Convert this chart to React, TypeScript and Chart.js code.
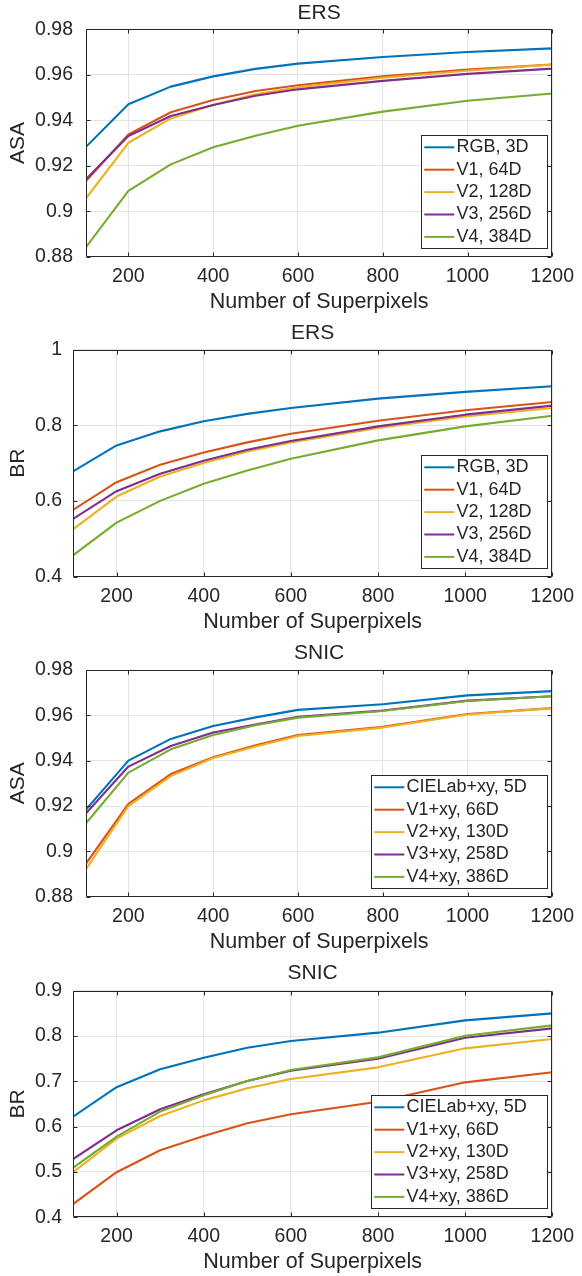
import React, { useEffect, useRef } from 'react';
import { Chart, registerables } from 'chart.js';

Chart.register(...registerables);

const FONT = "'Liberation Sans', Arial, Helvetica, sans-serif";
const TEXT = '#262626';
const GRID = '#e4e4e4';
const COLORS = ['#0072BD', '#D95319', '#EDB120', '#7E2F8E', '#77AC30'];

// ---- data ----
const superpixels = [100, 200, 300, 400, 500, 600, 800, 1000, 1200];
const xTickValues = [200, 400, 600, 800, 1000, 1200];
const asaTicks = [0.88, 0.9, 0.92, 0.94, 0.96, 0.98];
const ersBrTicks = [0.4, 0.6, 0.8, 1];
const snicBrTicks = [0.4, 0.5, 0.6, 0.7, 0.8, 0.9];

const ersLabels = ['RGB, 3D', 'V1, 64D', 'V2, 128D', 'V3, 256D', 'V4, 384D'];
const snicLabels = ['CIELab+xy, 5D', 'V1+xy, 66D', 'V2+xy, 130D', 'V3+xy, 258D', 'V4+xy, 386D'];

const ersAsaRGB = [0.9283, 0.947, 0.9548, 0.9593, 0.9626, 0.9649, 0.9678, 0.97, 0.9716];
const ersAsaV1 = [0.9133, 0.9338, 0.9435, 0.9489, 0.9529, 0.9554, 0.9593, 0.9623, 0.9645];
const ersAsaV2 = [0.9057, 0.9301, 0.9408, 0.9467, 0.9514, 0.9545, 0.9587, 0.9618, 0.9645];
const ersAsaV3 = [0.9141, 0.9331, 0.9419, 0.9467, 0.9508, 0.9536, 0.9573, 0.9604, 0.9627];
const ersAsaV4 = [0.8842, 0.9089, 0.9206, 0.9281, 0.9332, 0.9376, 0.9438, 0.9486, 0.9518];

const ersBrRGB = [0.678, 0.7467, 0.7838, 0.8103, 0.83, 0.8455, 0.8703, 0.888, 0.903];
const ersBrV1 = [0.5763, 0.6496, 0.6955, 0.7282, 0.7547, 0.7776, 0.812, 0.8394, 0.8614];
const ersBrV2 = [0.5252, 0.6117, 0.6646, 0.7, 0.7308, 0.7547, 0.7926, 0.8235, 0.8455];
const ersBrV3 = [0.5525, 0.6258, 0.6717, 0.7061, 0.7352, 0.7582, 0.797, 0.8279, 0.8517];
const ersBrV4 = [0.4563, 0.5428, 0.6002, 0.6452, 0.6805, 0.7114, 0.76, 0.797, 0.8252];

const snicAsaRGB = [0.9184, 0.94, 0.9496, 0.9553, 0.9591, 0.9624, 0.9649, 0.9688, 0.9707];
const snicAsaV1 = [0.8946, 0.9209, 0.9341, 0.9415, 0.9468, 0.9513, 0.955, 0.9606, 0.9632];
const snicAsaV2 = [0.8922, 0.92, 0.9332, 0.9412, 0.9463, 0.9509, 0.9546, 0.9604, 0.9631];
const snicAsaV3 = [0.9168, 0.9374, 0.9465, 0.9524, 0.956, 0.9594, 0.9621, 0.9665, 0.9684];
const snicAsaV4 = [0.9124, 0.9347, 0.945, 0.9513, 0.9556, 0.959, 0.9619, 0.9663, 0.9684];

const snicBrRGB = [0.622, 0.687, 0.7266, 0.7522, 0.7743, 0.789, 0.8074, 0.8346, 0.85];
const snicBrV1 = [0.429, 0.4995, 0.548, 0.5795, 0.6074, 0.6272, 0.6551, 0.6978, 0.72];
const snicBrV2 = [0.4995, 0.5735, 0.6236, 0.658, 0.6846, 0.7051, 0.7309, 0.7728, 0.7934];
const snicBrV3 = [0.5285, 0.592, 0.6383, 0.6717, 0.7007, 0.7235, 0.75, 0.7963, 0.8169];
const snicBrV4 = [0.509, 0.578, 0.6332, 0.6695, 0.7007, 0.725, 0.7529, 0.8007, 0.8235];

type PanelCfg = {
  title: string;
  yLabel: string;
  yMin: number;
  yMax: number;
  yTicks: number[];
  labels: string[];
  series: number[][];
  // layout
  top: number;
  height: number;
  areaTop: number;
  areaBottom: number;
  areaLeft: number;
  yTickPad: number;
  legendWidth: number;
};

const AREA_RIGHT = 558;

const panels: PanelCfg[] = [
  {
    title: 'ERS', yLabel: 'ASA', yMin: 0.88, yMax: 0.98, yTicks: asaTicks, labels: ersLabels,
    series: [ersAsaRGB, ersAsaV1, ersAsaV2, ersAsaV3, ersAsaV4],
    top: 0, height: 320, areaTop: 29.3, areaBottom: 256.7, areaLeft: 86, yTickPad: 13, legendWidth: 126,
  },
  {
    title: 'ERS', yLabel: 'BR', yMin: 0.4, yMax: 1, yTicks: ersBrTicks, labels: ersLabels,
    series: [ersBrRGB, ersBrV1, ersBrV2, ersBrV3, ersBrV4],
    top: 320, height: 320, areaTop: 29.5, areaBottom: 256.7, areaLeft: 73, yTickPad: 11, legendWidth: 126,
  },
  {
    title: 'SNIC', yLabel: 'ASA', yMin: 0.88, yMax: 0.98, yTicks: asaTicks, labels: snicLabels,
    series: [snicAsaRGB, snicAsaV1, snicAsaV2, snicAsaV3, snicAsaV4],
    top: 640, height: 320, areaTop: 30, areaBottom: 256.7, areaLeft: 86, yTickPad: 13, legendWidth: 176,
  },
  {
    title: 'SNIC', yLabel: 'BR', yMin: 0.4, yMax: 0.9, yTicks: snicBrTicks, labels: snicLabels,
    series: [snicBrRGB, snicBrV1, snicBrV2, snicBrV3, snicBrV4],
    top: 960, height: 316, areaTop: 30.7, areaBottom: 257.3, areaLeft: 73, yTickPad: 11, legendWidth: 176,
  },
];

const fmt = (v: number) => String(Number(v.toFixed(2)));

const decorPlugin = {
  id: 'decor',
  afterDatasetsDraw(chart: any, _args: any, opts: any) {
    const { ctx, chartArea: a, scales } = chart;
    const L = Math.round(a.left) + 0.5;
    const R = Math.round(a.right) - 0.5;
    const T = Math.round(a.top) + 0.5;
    const B = Math.round(a.bottom) - 0.5;
    ctx.save();
    ctx.strokeStyle = TEXT;
    ctx.lineWidth = 1;
    ctx.beginPath();
    ctx.rect(L, T, R - L, B - T);
    const tl = 4;
    (opts.xTicks as number[]).forEach((v) => {
      const px = Math.round(scales.x.getPixelForValue(v)) + 0.5;
      ctx.moveTo(px, B);
      ctx.lineTo(px, B - tl);
      ctx.moveTo(px, T);
      ctx.lineTo(px, T + tl);
    });
    (opts.yTicks as number[]).forEach((v) => {
      const py = Math.round(scales.y.getPixelForValue(v)) + 0.5;
      ctx.moveTo(L, py);
      ctx.lineTo(L + tl, py);
      ctx.moveTo(R, py);
      ctx.lineTo(R - tl, py);
    });
    ctx.stroke();
    ctx.restore();
  },
  afterDraw(chart: any, _args: any, opts: any) {
    const { ctx, chartArea: a } = chart;
    ctx.save();
    // title
    ctx.fillStyle = TEXT;
    ctx.font = `21px ${FONT}`;
    ctx.textAlign = 'center';
    ctx.textBaseline = 'middle';
    ctx.fillText(opts.title, (a.left + a.right) / 2, 13);

    // legend
    const ds = chart.data.datasets;
    ctx.font = `18px ${FONT}`;
    const w = opts.legendWidth;
    const h = 113;
    const right = Math.round(a.right - 5.3);
    const bottom = Math.round(a.bottom - 9);
    const left = right - w;
    const top = bottom - h;
    ctx.fillStyle = '#ffffff';
    ctx.fillRect(left, top, w, h);
    ctx.strokeStyle = TEXT;
    ctx.lineWidth = 1;
    ctx.strokeRect(left + 0.5, top + 0.5, w, h);
    ds.forEach((d: any, i: number) => {
      const cy = top + 12.3 + i * 22.4;
      ctx.strokeStyle = d.borderColor;
      ctx.lineWidth = 2;
      ctx.beginPath();
      ctx.moveTo(left + 3.3, cy);
      ctx.lineTo(left + 33.3, cy);
      ctx.stroke();
      ctx.fillStyle = TEXT;
      ctx.textAlign = 'left';
      ctx.textBaseline = 'middle';
      ctx.fillText(d.label, left + 35.5, cy);
    });
    ctx.restore();
  },
};

function PanelChart({ cfg }: { cfg: PanelCfg }) {
  const ref = useRef<HTMLCanvasElement | null>(null);
  useEffect(() => {
    if (!ref.current) return;
    const H = cfg.height;
    const xLabelCenter = 302;
    const chart = new Chart(ref.current, {
      type: 'line',
      data: {
        datasets: cfg.series.map((s, i) => ({
          label: cfg.labels[i],
          data: superpixels.map((x, j) => ({ x, y: s[j] })),
          borderColor: COLORS[i],
          backgroundColor: COLORS[i],
          borderWidth: 2.1,
          pointRadius: 0,
          tension: 0,
          fill: false,
          borderJoinStyle: 'round',
          order: cfg.series.length - i,
        })),
      },
      options: {
        animation: false,
        responsive: false,
        maintainAspectRatio: false,
        layout: { padding: { left: 0, right: 582 - AREA_RIGHT, top: cfg.areaTop, bottom: 0 } },
        plugins: {
          legend: { display: false },
          title: { display: false },
          tooltip: { enabled: false },
          decor: { title: cfg.title, xTicks: xTickValues, yTicks: cfg.yTicks, legendWidth: cfg.legendWidth },
        } as any,
        scales: {
          x: {
            type: 'linear',
            min: 100,
            max: 1200,
            afterBuildTicks: (s: any) => {
              s.ticks = xTickValues.map((v) => ({ value: v }));
            },
            afterFit: (s: any) => {
              s.height = H - cfg.areaBottom;
            },
            grid: { color: GRID, drawTicks: false, lineWidth: 1 },
            border: { display: false },
            ticks: {
              font: { family: FONT, size: 19.5 },
              color: TEXT,
              padding: 8,
              maxRotation: 0,
              autoSkip: false,
              callback: (v: any) => String(v),
            },
            title: {
              display: true,
              text: 'Number of Superpixels',
              font: { family: FONT, size: 21.5 },
              color: TEXT,
              padding: { top: 0, bottom: Math.max(0, H - xLabelCenter - 12.9) },
            },
          },
          y: {
            type: 'linear',
            min: cfg.yMin,
            max: cfg.yMax,
            afterBuildTicks: (s: any) => {
              s.ticks = cfg.yTicks.map((v) => ({ value: v }));
            },
            afterFit: (s: any) => {
              s.width = cfg.areaLeft;
            },
            grid: { color: GRID, drawTicks: false, lineWidth: 1 },
            border: { display: false },
            ticks: {
              font: { family: FONT, size: 19.5 },
              color: TEXT,
              padding: cfg.yTickPad,
              autoSkip: false,
              callback: (v: any) => fmt(Number(v)),
            },
            title: {
              display: true,
              text: cfg.yLabel,
              font: { family: FONT, size: 21 },
              color: TEXT,
              padding: { top: 18.5 - 12.6, bottom: 0 },
            },
          },
        },
      },
      plugins: [decorPlugin as any],
    });
    return () => chart.destroy();
  }, [cfg]);
  return (
    <canvas
      ref={ref}
      width={582}
      height={cfg.height}
      style={{ position: 'absolute', left: 0, top: cfg.top, width: 582, height: cfg.height, display: 'block' }}
    />
  );
}

export default function App() {
  return (
    <div
      style={{
        position: 'absolute',
        left: 0,
        top: 0,
        width: 582,
        height: 1276,
        background: '#ffffff',
        overflow: 'hidden',
      }}
    >
      {panels.map((p, i) => (
        <PanelChart key={i} cfg={p} />
      ))}
    </div>
  );
}
